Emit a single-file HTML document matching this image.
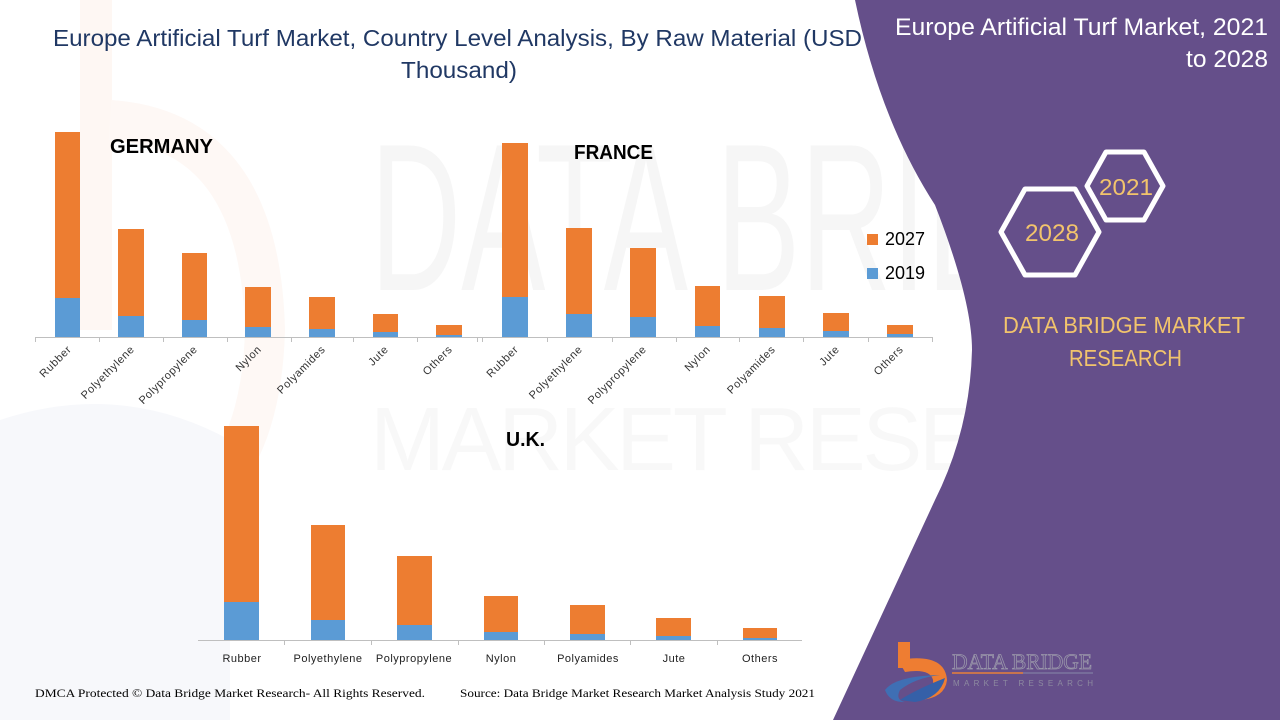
<!DOCTYPE html>
<html><head><meta charset="utf-8"><style>
html,body{margin:0;padding:0;background:#fff;}
svg{display:block;}
</style></head><body>
<svg width="1280" height="720" viewBox="0 0 1280 720" xmlns="http://www.w3.org/2000/svg">
<rect x="0" y="0" width="1280" height="720" fill="#ffffff"/>
<!-- faint watermark -->
<g>
  <rect x="80" y="0" width="32" height="330" fill="#fef7f3"/>
  <path d="M110,120 Q260,130 265,330 Q260,520 110,540" fill="none" stroke="#fef8f5" stroke-width="40"/>
  <path d="M0,420 Q120,380 230,440 L230,720 L0,720 Z" fill="#f7f8fb"/>
  <text x="370" y="290" font-family="Liberation Sans, sans-serif" font-size="210" fill="#000" opacity="0.03" textLength="830" lengthAdjust="spacingAndGlyphs">DATA BRIDGE</text>
  <text x="370" y="470" font-family="Liberation Sans, sans-serif" font-size="90" fill="#000" opacity="0.025" textLength="850" lengthAdjust="spacing">MARKET RESEARCH</text>
</g>

<!-- purple panel -->
<path d="M855,0 L1280,0 L1280,720 L833,720 L935,500 Q970,430 972,350 Q972,300 935,205 Q880,120 855,0 Z" fill="#654f8a"/>

<!-- main title -->
<text x="53" y="46" font-family="Liberation Sans, sans-serif" font-size="23" fill="#203864" textLength="809" lengthAdjust="spacingAndGlyphs">Europe Artificial Turf Market, Country Level Analysis, By Raw Material (USD</text>
<text x="401" y="78" font-family="Liberation Sans, sans-serif" font-size="23" fill="#203864" textLength="116" lengthAdjust="spacingAndGlyphs">Thousand)</text>

<!-- right title -->
<text x="895" y="35" font-family="Liberation Sans, sans-serif" font-size="24" fill="#ffffff" textLength="373" lengthAdjust="spacingAndGlyphs">Europe Artificial Turf Market, 2021</text>
<text x="1186" y="67" font-family="Liberation Sans, sans-serif" font-size="24" fill="#ffffff" textLength="82" lengthAdjust="spacingAndGlyphs">to 2028</text>

<!-- hexagons -->
<polygon points="1087,186 1106,152 1144,152 1163,186 1144,220 1106,220" fill="none" stroke="#ffffff" stroke-width="5" stroke-linejoin="round"/>
<polygon points="1001,232 1025,189 1075,189 1099,232 1075,275 1025,275" fill="none" stroke="#ffffff" stroke-width="5" stroke-linejoin="round"/>
<text x="1099" y="195" font-family="Liberation Sans, sans-serif" font-size="23" fill="#f2c46c" textLength="54" lengthAdjust="spacingAndGlyphs">2021</text>
<text x="1025" y="241" font-family="Liberation Sans, sans-serif" font-size="24" fill="#f2c46c" textLength="54" lengthAdjust="spacingAndGlyphs">2028</text>

<text x="1003" y="333" font-family="Liberation Sans, sans-serif" font-size="23" fill="#f2c46c" textLength="242" lengthAdjust="spacingAndGlyphs">DATA BRIDGE MARKET</text>
<text x="1069" y="366" font-family="Liberation Sans, sans-serif" font-size="23" fill="#f2c46c" textLength="113" lengthAdjust="spacingAndGlyphs">RESEARCH</text>

<!-- GERMANY chart -->
<g>
  <g fill="#ed7d31">
    <rect x="55" y="132" width="25" height="166"/>
    <rect x="118" y="229" width="26" height="87"/>
    <rect x="182" y="253" width="25" height="67"/>
    <rect x="245" y="287" width="26" height="40"/>
    <rect x="309" y="297" width="26" height="32"/>
    <rect x="373" y="314" width="25" height="18"/>
    <rect x="436" y="325" width="26" height="10"/>
  </g>
  <g fill="#5b9bd5">
    <rect x="55" y="298" width="25" height="39.5"/>
    <rect x="118" y="316" width="26" height="21.5"/>
    <rect x="182" y="320" width="25" height="17.5"/>
    <rect x="245" y="327" width="26" height="10.5"/>
    <rect x="309" y="329" width="26" height="8.5"/>
    <rect x="373" y="332" width="25" height="5.5"/>
    <rect x="436" y="335" width="26" height="2.5"/>
  </g>
  <line x1="35" y1="337.5" x2="477" y2="337.5" stroke="#bfbfbf" stroke-width="1"/>
  <g stroke="#bfbfbf" stroke-width="1">
    <line x1="35.5" y1="337" x2="35.5" y2="342"/><line x1="99.5" y1="337" x2="99.5" y2="342"/>
    <line x1="163.5" y1="337" x2="163.5" y2="342"/><line x1="227.5" y1="337" x2="227.5" y2="342"/>
    <line x1="291.5" y1="337" x2="291.5" y2="342"/><line x1="353.5" y1="337" x2="353.5" y2="342"/>
    <line x1="417.5" y1="337" x2="417.5" y2="342"/><line x1="477.5" y1="337" x2="477.5" y2="342"/>
  </g>
  <g font-family="Liberation Sans, sans-serif" font-size="11" fill="#333" text-anchor="end" letter-spacing="0.6">
    <text transform="translate(72,350) rotate(-45)">Rubber</text>
    <text transform="translate(135,350) rotate(-45)">Polyethylene</text>
    <text transform="translate(198,350) rotate(-45)">Polypropylene</text>
    <text transform="translate(262,350) rotate(-45)">Nylon</text>
    <text transform="translate(326,350) rotate(-45)">Polyamides</text>
    <text transform="translate(389,350) rotate(-45)">Jute</text>
    <text transform="translate(453,350) rotate(-45)">Others</text>
  </g>
  <text x="110" y="153" font-family="Liberation Sans, sans-serif" font-weight="bold" font-size="20" fill="#000" textLength="103" lengthAdjust="spacingAndGlyphs">GERMANY</text>
</g>

<!-- FRANCE chart -->
<g>
  <g fill="#ed7d31">
    <rect x="502" y="143" width="26" height="154"/>
    <rect x="566" y="228" width="26" height="86"/>
    <rect x="630" y="248" width="26" height="69"/>
    <rect x="695" y="286" width="25" height="40"/>
    <rect x="759" y="296" width="26" height="32"/>
    <rect x="823" y="313" width="26" height="18"/>
    <rect x="887" y="325" width="26" height="9"/>
  </g>
  <g fill="#5b9bd5">
    <rect x="502" y="297" width="26" height="40"/>
    <rect x="566" y="314" width="26" height="23"/>
    <rect x="630" y="317" width="26" height="20"/>
    <rect x="695" y="326" width="25" height="11"/>
    <rect x="759" y="328" width="26" height="9"/>
    <rect x="823" y="331" width="26" height="6"/>
    <rect x="887" y="334" width="26" height="3"/>
  </g>
  <line x1="477" y1="337.5" x2="933" y2="337.5" stroke="#bfbfbf" stroke-width="1"/>
  <g stroke="#bfbfbf" stroke-width="1">
    <line x1="482.5" y1="337" x2="482.5" y2="342"/><line x1="547.5" y1="337" x2="547.5" y2="342"/>
    <line x1="612.5" y1="337" x2="612.5" y2="342"/><line x1="676.5" y1="337" x2="676.5" y2="342"/>
    <line x1="739.5" y1="337" x2="739.5" y2="342"/><line x1="803.5" y1="337" x2="803.5" y2="342"/>
    <line x1="868.5" y1="337" x2="868.5" y2="342"/><line x1="932.5" y1="337" x2="932.5" y2="342"/>
  </g>
  <g font-family="Liberation Sans, sans-serif" font-size="11" fill="#333" text-anchor="end" letter-spacing="0.6">
    <text transform="translate(519,350) rotate(-45)">Rubber</text>
    <text transform="translate(583,350) rotate(-45)">Polyethylene</text>
    <text transform="translate(647,350) rotate(-45)">Polypropylene</text>
    <text transform="translate(711,350) rotate(-45)">Nylon</text>
    <text transform="translate(776,350) rotate(-45)">Polyamides</text>
    <text transform="translate(840,350) rotate(-45)">Jute</text>
    <text transform="translate(904,350) rotate(-45)">Others</text>
  </g>
  <text x="574" y="159" font-family="Liberation Sans, sans-serif" font-weight="bold" font-size="20" fill="#000" textLength="79" lengthAdjust="spacingAndGlyphs">FRANCE</text>
  <!-- legend -->
  <rect x="867" y="234" width="11" height="11" fill="#ed7d31"/>
  <text x="885" y="245" font-family="Liberation Sans, sans-serif" font-size="18" fill="#000" textLength="40" lengthAdjust="spacingAndGlyphs">2027</text>
  <rect x="867" y="268" width="11" height="11" fill="#5b9bd5"/>
  <text x="885" y="279" font-family="Liberation Sans, sans-serif" font-size="18" fill="#000" textLength="40" lengthAdjust="spacingAndGlyphs">2019</text>
</g>

<!-- UK chart -->
<g>
  <g fill="#ed7d31">
    <rect x="224" y="426" width="35" height="176"/>
    <rect x="311" y="525" width="34" height="95"/>
    <rect x="397" y="556" width="35" height="69"/>
    <rect x="484" y="596" width="34" height="36"/>
    <rect x="570" y="605" width="35" height="29"/>
    <rect x="656" y="618" width="35" height="18"/>
    <rect x="743" y="628" width="34" height="10"/>
  </g>
  <g fill="#5b9bd5">
    <rect x="224" y="602" width="35" height="38"/>
    <rect x="311" y="620" width="34" height="20"/>
    <rect x="397" y="625" width="35" height="15"/>
    <rect x="484" y="632" width="34" height="8"/>
    <rect x="570" y="634" width="35" height="6"/>
    <rect x="656" y="636" width="35" height="4"/>
    <rect x="743" y="638" width="34" height="2"/>
  </g>
  <line x1="198" y1="640.5" x2="802" y2="640.5" stroke="#bfbfbf" stroke-width="1"/>
  <g stroke="#bfbfbf" stroke-width="1">
    <line x1="284.5" y1="640" x2="284.5" y2="645"/><line x1="371.5" y1="640" x2="371.5" y2="645"/>
    <line x1="458.5" y1="640" x2="458.5" y2="645"/><line x1="544.5" y1="640" x2="544.5" y2="645"/>
    <line x1="630.5" y1="640" x2="630.5" y2="645"/><line x1="717.5" y1="640" x2="717.5" y2="645"/>
  </g>
  <g font-family="Liberation Sans, sans-serif" font-size="11" fill="#222" text-anchor="middle" letter-spacing="0.5">
    <text x="242" y="662">Rubber</text>
    <text x="328" y="662">Polyethylene</text>
    <text x="414" y="662">Polypropylene</text>
    <text x="501" y="662">Nylon</text>
    <text x="588" y="662">Polyamides</text>
    <text x="674" y="662">Jute</text>
    <text x="760" y="662">Others</text>
  </g>
  <text x="506" y="446" font-family="Liberation Sans, sans-serif" font-weight="bold" font-size="20" fill="#000" textLength="39" lengthAdjust="spacingAndGlyphs">U.K.</text>
</g>

<!-- footer -->
<text x="35" y="697" font-family="Liberation Serif, serif" font-size="12" fill="#000" textLength="390" lengthAdjust="spacingAndGlyphs">DMCA Protected © Data Bridge Market Research- All Rights Reserved.</text>
<text x="460" y="697" font-family="Liberation Serif, serif" font-size="12" fill="#000" textLength="355" lengthAdjust="spacingAndGlyphs">Source: Data Bridge Market Research Market Analysis Study 2021</text>

<!-- logo -->
<g>
  <rect x="898" y="642" width="12" height="26" fill="#ee7d32"/>
  <path d="M898,660 Q945,652 947,680 Q945,698 920,700 L912,700 Q935,692 933,680 Q930,668 905,672 Z" fill="#ee7d32"/>
  <path d="M885,690 Q895,676 940,675 Q915,678 900,690 Q895,700 905,702 Q890,703 885,690 Z" fill="#3f6fb4"/>
  <path d="M900,700 Q915,690 945,678 Q940,698 915,702 Z" fill="#3560a8"/>
  <text x="952" y="669" font-family="Liberation Serif, serif" font-size="22" fill="none" stroke="#9a97aa" stroke-width="0.8" textLength="140" lengthAdjust="spacingAndGlyphs">DATA BRIDGE</text>
  <line x1="952" y1="673" x2="1023" y2="673" stroke="#e8803b" stroke-width="1.5"/>
  <line x1="1023" y1="673" x2="1093" y2="673" stroke="#7c76a0" stroke-width="1.5"/>
  <text x="953" y="686" font-family="Liberation Sans, sans-serif" font-size="8" fill="#8d8aa0" textLength="140" lengthAdjust="spacing">MARKET RESEARCH</text>
</g>
</svg>
</body></html>
